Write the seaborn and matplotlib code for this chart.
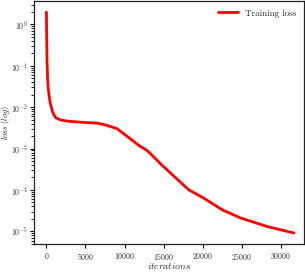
import numpy as np
import pandas as pd
import matplotlib
matplotlib.use("Agg")
import matplotlib.pyplot as plt
import seaborn as sns

iterations = [0, 30, 80, 150, 220, 350, 510, 800, 1150, 1800, 2650, 4500, 6500, 7350,
              8200, 9060, 9910, 10770, 11800, 12900, 13333, 14600, 15040, 16500,
              18250, 20170, 22520, 24870, 28300, 31700]
loss = [1.97, 0.47, 0.12, 0.05, 0.03, 0.018, 0.012, 0.0075, 0.0056, 0.0049, 0.0046,
        0.0043, 0.0041, 0.0038, 0.0034, 0.0030, 0.00226, 0.0017, 0.0012, 0.00089,
        0.00075, 0.00043, 0.00036, 0.0002, 0.0001, 0.000063, 0.000033, 0.000021,
        0.000013, 0.0000091]

df = pd.DataFrame({"iterations": iterations, "loss": loss})

sns.set_style("ticks")
plt.rcParams["font.family"] = ["serif"]
plt.rcParams["font.serif"] = ["cmr10", "DejaVu Serif"]
plt.rcParams["mathtext.fontset"] = "cm"
plt.rcParams["axes.formatter.use_mathtext"] = True
plt.rcParams["axes.unicode_minus"] = False

fig = plt.figure(figsize=(3.05, 2.73), dpi=100)
ax = fig.add_axes([0.110, 0.106, 0.887, 0.890])
sns.lineplot(data=df, x="iterations", y="loss", color="red", lw=2,
             label="Training loss", ax=ax)
ax.set_yscale("log")
ax.set_xlim(-1650, 33000)
ax.set_xticks([0, 5000, 10000, 15000, 20000, 25000, 30000])
ax.tick_params(axis="both", labelsize=5.7, colors="black", length=3, width=0.8,
               labelcolor="#333333", pad=2)
ax.tick_params(axis="y", pad=1.2)
ax.tick_params(axis="y", which="minor", length=2, width=0.6, color="black")
ax.set_xlabel(r"$iterations$", fontsize=7, labelpad=0)
ax.set_ylabel(r"$loss\ (log)$", fontsize=6, labelpad=0)
ax.xaxis.set_label_coords(0.5, -0.07)
for s in ax.spines.values():
    s.set_color("#222222")
    s.set_linewidth(0.9)
leg = ax.legend(loc="upper right", frameon=False, fontsize=6.5, handlelength=2.2)

# place the y label in the gap between the figure edge and the tick labels
fig.canvas.draw()
renderer = fig.canvas.get_renderer()
tick_x0 = min(t.get_window_extent(renderer).x0
              for t in ax.get_yticklabels() if t.get_visible() and t.get_text())
ylab = ax.yaxis.label
ylab.set_ha("center")
ylab.set_va("center")
ylab.set_rotation_mode("anchor")
cx_px = tick_x0 / 2.0
ax_bb = ax.get_window_extent(renderer)
ax.yaxis.set_label_coords((cx_px - ax_bb.x0) / ax_bb.width, 0.5)
fig.savefig("out.png", dpi=100)
